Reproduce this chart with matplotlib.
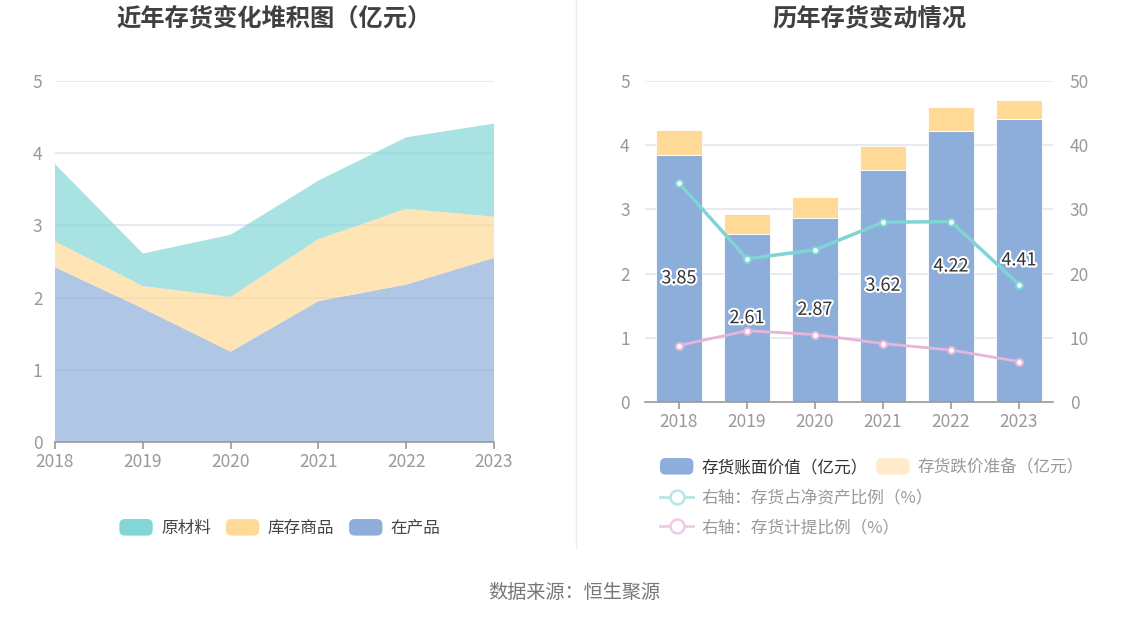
import matplotlib
matplotlib.use("Agg")
import matplotlib.pyplot as plt
import matplotlib.patheffects as pe
from matplotlib.patches import Patch, FancyBboxPatch
from matplotlib.lines import Line2D
from matplotlib.legend_handler import HandlerPatch
import numpy as np

plt.rcParams['font.family'] = ['Noto Sans CJK SC', 'DejaVu Sans']

# data
years = ['2018', '2019', '2020', '2021', '2022', '2023']
wip = [2.42, 1.85, 1.25, 1.95, 2.18, 2.55]        # 在产品
goods = [0.36, 0.31, 0.76, 0.86, 1.05, 0.57]      # 库存商品
raw = [1.07, 0.45, 0.86, 0.81, 0.99, 1.29]        # 原材料

book_value = [3.85, 2.61, 2.87, 3.62, 4.22, 4.41]   # 存货账面价值（亿元）
provision = [0.38, 0.32, 0.33, 0.37, 0.38, 0.30]    # 存货跌价准备（亿元）
pct_net_assets = [34.1, 22.3, 23.7, 28.0, 28.1, 18.3]  # 存货占净资产比例（%）
pct_provision = [8.8, 11.1, 10.5, 9.1, 8.1, 6.3]       # 存货计提比例（%）

# colours
c_blue = '#8DAEDB'
c_yellow = '#FFD996'
c_cyan = '#83D6D6'
c_line1 = '#7FD4D4'
c_line2 = '#E6B6DA'
grid_c = '#E0E6F1'
tick_c = '#999999'
axis_c = '#9A9A9A'

W, H = 1148, 619
fig = plt.figure(figsize=(W / 100, H / 100), dpi=100)


def fx(px):
    return px / W


def fy(py):
    return 1 - py / H


class RoundPatchHandler(HandlerPatch):
    # legend swatch with rounded corners
    def create_artists(self, legend, orig_handle, xdescent, ydescent,
                       width, height, fontsize, trans):
        p = FancyBboxPatch((-xdescent, -ydescent), width, height,
                           boxstyle='round,pad=0,rounding_size=4',
                           facecolor=orig_handle.get_facecolor(),
                           edgecolor='none', transform=trans)
        return [p]


hmap = {Patch: RoundPatchHandler()}

# ---------------- left: stacked area ----------------
ax1 = fig.add_axes([fx(55), fy(442), fx(494 - 55), fy(81) - fy(442)])
x = np.arange(len(years))
ax1.stackplot(x, wip, goods, raw, colors=[c_blue, c_yellow, c_cyan],
              alpha=0.7, linewidth=0, zorder=3)
ax1.set_xlim(0, len(years) - 1)
ax1.set_ylim(0, 5)
ax1.set_yticks(range(6))
ax1.set_xticks(x)
ax1.set_xticklabels(years)
ax1.grid(axis='y', color=grid_c, linewidth=1.2, zorder=0)
for s in ['left', 'right', 'top']:
    ax1.spines[s].set_visible(False)
ax1.spines['bottom'].set_color(axis_c)
ax1.spines['bottom'].set_linewidth(1.2)
ax1.spines['bottom'].set_zorder(5)
ax1.tick_params(axis='y', length=0, pad=9, labelsize=12.5, labelcolor=tick_c)
ax1.tick_params(axis='x', length=5, width=1.2, color=axis_c, pad=3,
                labelsize=12.5, labelcolor=tick_c)
ax1.set_axisbelow(True)

fig.text(fx(274), fy(18), '近年存货变化堆积图（亿元）', ha='center', va='center',
         fontsize=17.5, fontweight='bold', color='#404040')

leg1 = fig.legend(handles=[Patch(facecolor=c_cyan, label='原材料'),
                           Patch(facecolor=c_yellow, label='库存商品'),
                           Patch(facecolor=c_blue, label='在产品')],
                  handler_map=hmap,
                  loc='center', bbox_to_anchor=(fx(280), fy(528)), ncol=3,
                  frameon=False, fontsize=12, handlelength=2.0, handleheight=1.15,
                  handletextpad=0.5, columnspacing=0.9)
for t in leg1.get_texts():
    t.set_color('#444444')

# divider
fig.add_artist(Line2D([fx(576), fx(576)], [fy(0), fy(549)], color='#EEEEEE', lw=1))

# ---------------- right: bars + lines ----------------
ax2 = fig.add_axes([fx(645), fy(402), fx(1053 - 645), fy(81) - fy(402)])
xb = np.arange(len(years))
bw = 0.68
ax2.bar(xb, book_value, width=bw, color=c_blue, edgecolor='white', linewidth=0.6, zorder=3)
ax2.bar(xb, provision, width=bw, bottom=book_value, color=c_yellow,
        edgecolor='white', linewidth=0.6, zorder=3)
ax2.set_xlim(-0.5, len(years) - 0.5)
ax2.set_ylim(0, 5)
ax2.set_yticks(range(6))
ax2.set_xticks(xb)
ax2.set_xticklabels(years)
ax2.grid(axis='y', color=grid_c, linewidth=1.2, zorder=0)
ax2.set_axisbelow(True)
for s in ['left', 'right', 'top']:
    ax2.spines[s].set_visible(False)
ax2.spines['bottom'].set_color(axis_c)
ax2.spines['bottom'].set_linewidth(1.2)
ax2.spines['bottom'].set_zorder(5)
ax2.tick_params(axis='y', length=0, pad=11, labelsize=12.5, labelcolor=tick_c)
ax2.tick_params(axis='x', length=5, width=1.2, color=axis_c, pad=3,
                labelsize=12.5, labelcolor=tick_c)

ax3 = ax2.twinx()
ax3.set_ylim(0, 50)
ax3.set_yticks(range(0, 51, 10))
for s in ['left', 'right', 'top', 'bottom']:
    ax3.spines[s].set_visible(False)
ax3.tick_params(axis='y', length=0, pad=12, labelsize=12.5, labelcolor=tick_c)
ax3.plot(xb, pct_net_assets, color=c_line1, lw=2.5, marker='o', markersize=5,
         markerfacecolor='white', markeredgecolor=c_line1, markeredgewidth=1.5, zorder=4)
ax3.plot(xb, pct_provision, color=c_line2, lw=2, marker='o', markersize=5,
         markerfacecolor='white', markeredgecolor=c_line2, markeredgewidth=1.5, zorder=4)

for xi, v in zip(xb, book_value):
    ax3.text(xi, v / 2 * 10, f'{v:.2f}', ha='center', va='center', fontsize=13,
             color='#333333', zorder=6,
             path_effects=[pe.withStroke(linewidth=3, foreground='white')])

fig.text(fx(869), fy(18), '历年存货变动情况', ha='center', va='center',
         fontsize=17.5, fontweight='bold', color='#404040')

leg2 = fig.legend(handles=[Patch(facecolor=c_blue, label='存货账面价值（亿元）'),
                           Patch(facecolor='#FFEBCB', label='存货跌价准备（亿元）')],
                  handler_map=hmap,
                  loc='center left', bbox_to_anchor=(fx(660), fy(467)), ncol=2,
                  frameon=False, fontsize=12, handlelength=2.0, handleheight=1.15,
                  handletextpad=0.5, columnspacing=0.5, borderpad=0, borderaxespad=0)
leg2.get_texts()[0].set_color('#333333')
leg2.get_texts()[1].set_color('#999999')

leg3 = fig.legend(handles=[Line2D([], [], color='#B4E7E7', lw=2, marker='o', markersize=10,
                                  markerfacecolor='white', markeredgewidth=1.8,
                                  label='右轴：存货占净资产比例（%）'),
                           Line2D([], [], color='#F0CBE6', lw=2, marker='o', markersize=10,
                                  markerfacecolor='white', markeredgewidth=1.8,
                                  label='右轴：存货计提比例（%）')],
                  loc='center left', bbox_to_anchor=(fx(660), fy(513)), ncol=1,
                  frameon=False, fontsize=12, handlelength=2.0,
                  handletextpad=0.5, labelspacing=0.72, borderpad=0, borderaxespad=0)
for t in leg3.get_texts():
    t.set_color('#999999')

fig.text(fx(574), fy(592), '数据来源：恒生聚源', ha='center', va='center',
         fontsize=13.8, color='#777777')

fig.savefig('out.png', dpi=100, facecolor='white')
